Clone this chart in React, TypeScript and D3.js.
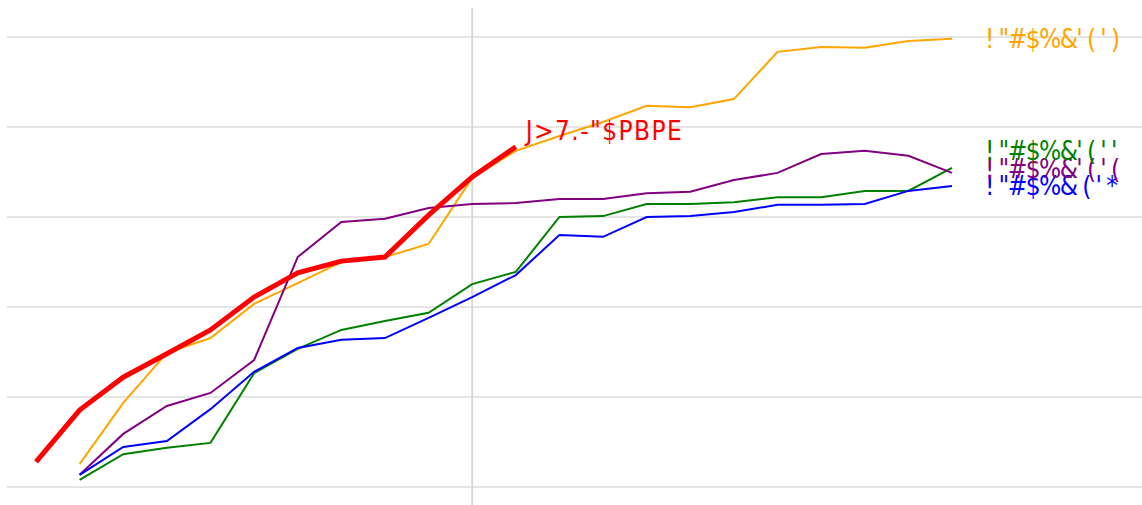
import * as d3 from 'd3';
import React, { useEffect, useRef } from 'react';

// x positions are step indices 0..21, values are on a 0..100 scale
const steps = d3.range(22);
const yTicks = [0, 20, 40, 60, 80, 100];
const markerStep = 10;

const redValues = [5.6, 17.1, 24.4, 29.6, 34.9, 42.2, 47.6, 50.2, 51.1, 60.4, 68.9, 75.6];
const orangeValues = [null, 5.1, 18.7, 29.8, 33.1, 40.7, 45.3, 50.0, 51.1, 54.0, 68.7, 74.7, 78.0, 81.1, 84.7, 84.4, 86.2, 96.7, 97.8, 97.6, 99.1, 99.6];
const purpleValues = [null, 2.7, 11.8, 18.0, 20.9, 28.2, 51.1, 58.9, 59.6, 62.0, 62.9, 63.1, 64.0, 64.0, 65.3, 65.6, 68.2, 69.8, 74.0, 74.7, 73.6, 69.8];
const greenValues = [null, 1.6, 7.3, 8.7, 9.8, 25.3, 30.7, 34.9, 36.9, 38.7, 45.1, 47.8, 60.0, 60.2, 62.9, 62.9, 63.3, 64.4, 64.4, 65.8, 65.8, 70.9];
const blueValues = [null, 2.7, 8.9, 10.2, 17.3, 25.6, 30.9, 32.7, 33.1, 37.6, 42.2, 47.1, 56.0, 55.6, 60.0, 60.2, 61.1, 62.7, 62.7, 62.9, 65.8, 66.9];

const series = [
  { name: '! "#$%&\' ( \' )', color: 'orange', values: orangeValues },
  { name: '! "#$%&\' ( \' \'', color: 'green', values: greenValues },
  { name: '! "#$%&\' ( \' (', color: 'purple', values: purpleValues },
  { name: '! "#$%& ( \' *', color: 'blue', values: blueValues },
];
const highlight = { name: 'J>7.-"$PBPE', color: 'red', values: redValues };

const W = 1142;
const H = 505;
const FONT = '"DejaVu Sans Condensed", "DejaVu Sans", sans-serif';

const App = () => {
  const svgRef = useRef<SVGSVGElement>(null);

  useEffect(() => {
    const svg = d3.select(svgRef.current);
    svg.selectAll('*').remove();

    const x = d3.scaleLinear().domain([0, 21]).range([36, 952]);
    const y = d3.scaleLinear().domain([0, 100]).range([487, 37]);

    // horizontal grid
    svg.append('g')
      .selectAll('line')
      .data(yTicks)
      .enter()
      .append('line')
      .attr('x1', 7)
      .attr('x2', W)
      .attr('y1', d => y(d))
      .attr('y2', d => y(d))
      .attr('stroke', '#e5e5e5')
      .attr('stroke-width', 2);

    // vertical marker
    svg.append('line')
      .attr('x1', x(markerStep))
      .attr('x2', x(markerStep))
      .attr('y1', 8)
      .attr('y2', H)
      .attr('stroke', '#d9d9d9')
      .attr('stroke-width', 2);

    const line = d3.line<number | null>()
      .defined(d => d !== null)
      .x((d, i) => x(steps[i]))
      .y(d => y(d as number));

    series.forEach(s => {
      svg.append('path')
        .datum(s.values)
        .attr('fill', 'none')
        .attr('stroke', s.color)
        .attr('stroke-width', 2)
        .attr('d', line);
    });

    svg.append('path')
      .datum(highlight.values)
      .attr('fill', 'none')
      .attr('stroke', highlight.color)
      .attr('stroke-width', 5)
      .attr('d', line);

    // end labels, pushed upward so they do not overlap too much
    const labels = series.map(s => {
      const last = s.values.length - 1;
      return { ...s, ly: y(s.values[last] as number), lx: x(steps[last]) };
    }).sort((a, b) => b.ly - a.ly);
    const gap = 17.5;
    for (let i = 1; i < labels.length; i++) {
      labels[i].ly = Math.min(labels[i].ly, labels[i - 1].ly - gap);
    }

    svg.append('g')
      .selectAll('text')
      .data(labels)
      .enter()
      .append('text')
      .attr('x', d => d.lx + 33)
      .attr('y', d => d.ly)
      .attr('dy', '0.35em')
      .attr('fill', d => d.color)
      .attr('font-family', FONT)
      .attr('font-size', '26px')
      .attr('letter-spacing', '-1.6px')
      .text(d => d.name);

    const hl = highlight.values.length - 1;
    svg.append('text')
      .attr('x', x(steps[hl]) + 10)
      .attr('y', y(highlight.values[hl]) - 7)
      .attr('fill', highlight.color)
      .attr('font-family', FONT)
      .attr('font-size', '26px')
      .attr('letter-spacing', '1.4px')
      .text(highlight.name);
  }, []);

  return (
    <svg
      ref={svgRef}
      width={W}
      height={H}
      style={{ position: 'absolute', left: 0, top: 0, display: 'block', background: '#fff' }}
    />
  );
};

export default App;
